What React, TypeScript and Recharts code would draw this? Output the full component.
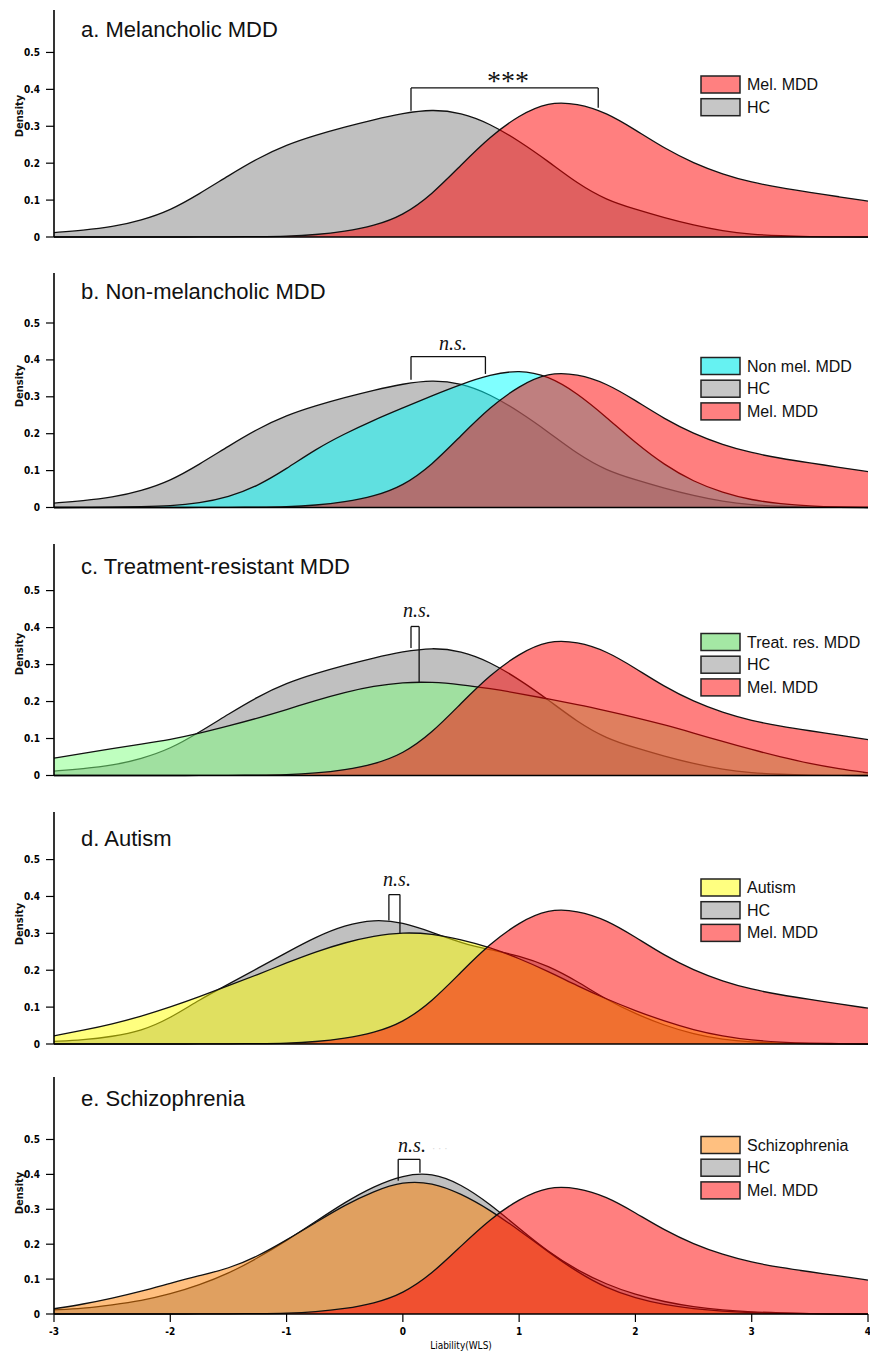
import React from "react";
import { Area, AreaChart, ReferenceLine, XAxis, YAxis } from "recharts";

// liability grid (WLS)
const xs = [-3, -2.75, -2.5, -2.25, -2, -1.75, -1.5, -1.25, -1, -0.75, -0.5, -0.25, 0, 0.25, 0.5, 0.75, 1, 1.25, 1.5, 1.75, 2, 2.25, 2.5, 2.75, 3, 3.25, 3.5, 3.75, 4];

const melMDD = [0, 0, 0, 0, 0, 0, 0.0005, 0.001, 0.002, 0.006, 0.015, 0.03, 0.058, 0.115, 0.195, 0.272, 0.33, 0.366, 0.362, 0.337, 0.29, 0.24, 0.2, 0.17, 0.148, 0.133, 0.121, 0.109, 0.097];
const hcMain = [0.012, 0.018, 0.027, 0.045, 0.072, 0.117, 0.166, 0.213, 0.25, 0.276, 0.298, 0.318, 0.335, 0.346, 0.337, 0.307, 0.26, 0.205, 0.145, 0.1, 0.075, 0.052, 0.032, 0.016, 0.007, 0.003, 0.001, 0, 0];
const nonMel = [0, 0, 0.001, 0.002, 0.004, 0.012, 0.028, 0.058, 0.105, 0.158, 0.2, 0.237, 0.27, 0.303, 0.334, 0.36, 0.373, 0.357, 0.31, 0.245, 0.175, 0.115, 0.07, 0.04, 0.02, 0.01, 0.004, 0.001, 0];
const treatRes = [0.047, 0.06, 0.073, 0.085, 0.097, 0.114, 0.134, 0.155, 0.178, 0.203, 0.225, 0.242, 0.252, 0.253, 0.246, 0.235, 0.222, 0.207, 0.192, 0.175, 0.157, 0.137, 0.115, 0.092, 0.07, 0.05, 0.032, 0.018, 0.007];
const hcAutism = [0.007, 0.011, 0.02, 0.035, 0.07, 0.12, 0.162, 0.205, 0.248, 0.29, 0.322, 0.338, 0.33, 0.303, 0.274, 0.255, 0.24, 0.212, 0.17, 0.12, 0.082, 0.05, 0.027, 0.012, 0.005, 0.002, 0.001, 0, 0];
const autism = [0.022, 0.037, 0.054, 0.075, 0.1, 0.128, 0.158, 0.188, 0.22, 0.25, 0.275, 0.293, 0.303, 0.299, 0.283, 0.262, 0.232, 0.197, 0.158, 0.122, 0.09, 0.062, 0.038, 0.021, 0.01, 0.005, 0.002, 0.001, 0];
const hcSchizo = [0.012, 0.016, 0.026, 0.038, 0.057, 0.083, 0.116, 0.16, 0.21, 0.265, 0.32, 0.366, 0.398, 0.405, 0.372, 0.315, 0.245, 0.178, 0.125, 0.085, 0.055, 0.035, 0.02, 0.011, 0.006, 0.003, 0.001, 0, 0];
const schizo = [0.015, 0.028, 0.045, 0.065, 0.088, 0.11, 0.13, 0.165, 0.212, 0.262, 0.312, 0.352, 0.38, 0.377, 0.345, 0.298, 0.24, 0.178, 0.12, 0.074, 0.045, 0.026, 0.015, 0.008, 0.004, 0.002, 0.001, 0, 0];

const xTicks = [-3, -2, -1, 0, 1, 2, 3, 4];
const yTicks = [0, 0.1, 0.2, 0.3, 0.4, 0.5];

// significance brackets: [left x, right x, top, left foot, right foot]
const bracketA = [0.07, 1.68, 0.404, 0.342, 0.35];
const bracketB = [0.07, 0.71, 0.409, 0.346, 0.362];
const bracketC = [0.07, 0.14, 0.403, 0.345, 0.25];
const bracketD = [-0.12, -0.025, 0.405, 0.335, 0.3];
const bracketE = [-0.04, 0.147, 0.443, 0.382, 0.405];

const rows = xs.map((x, i) => ({
  x,
  mel: melMDD[i],
  hc: hcMain[i],
  nonMel: nonMel[i],
  treat: treatRes[i],
  hcA: hcAutism[i],
  autism: autism[i],
  hcS: hcSchizo[i],
  schizo: schizo[i],
}));

const SANS = "'Liberation Sans', Arial, sans-serif";
const NARROW = "'Liberation Sans Narrow', 'DejaVu Sans Condensed', 'Liberation Sans', sans-serif";
const SERIF = "'Liberation Serif', 'DejaVu Serif', serif";

const GRAY = { fill: "#c0c0c0", op: 1 };
const RED = { fill: "#ff0000", op: 0.5 };

const panels = [
  {
    title: "a. Melancholic MDD", titleY: 37, top: 10, bottom: 237, yMax: 0.615, densityY: 116,
    series: [{ key: "hc", ...GRAY }, { key: "mel", ...RED }],
    legend: [["Mel. MDD", "#ff8080"], ["HC", "#c6c6c6"]], legendTop: 76,
    bracket: bracketA, sig: "***", sigX: 508, sigY: 90,
  },
  {
    title: "b. Non-melancholic MDD", titleY: 299, top: 273, bottom: 507.5, yMax: 0.6355, densityY: 386,
    series: [{ key: "hc", ...GRAY }, { key: "nonMel", fill: "#00ffff", op: 0.5 }, { key: "mel", ...RED }],
    legend: [["Non mel. MDD", "#66f2f2"], ["HC", "#c6c6c6"], ["Mel. MDD", "#ff8080"]], legendTop: 357.5,
    bracket: bracketB, sig: "n.s.", sigX: 453, sigY: 349.5,
  },
  {
    title: "c. Treatment-resistant MDD", titleY: 574, top: 544, bottom: 775.5, yMax: 0.626, densityY: 654,
    series: [{ key: "hc", ...GRAY }, { key: "treat", fill: "#80ff80", op: 0.5 }, { key: "mel", ...RED }],
    legend: [["Treat. res. MDD", "#a4e8a4"], ["HC", "#c6c6c6"], ["Mel. MDD", "#ff8080"]], legendTop: 633.5,
    bracket: bracketC, sig: "n.s.", sigX: 417, sigY: 616.5,
  },
  {
    title: "d. Autism", titleY: 845.5, top: 812, bottom: 1044, yMax: 0.629, densityY: 924,
    series: [{ key: "hcA", ...GRAY }, { key: "autism", fill: "#ffff00", op: 0.5 }, { key: "mel", ...RED }],
    legend: [["Autism", "#ffff80"], ["HC", "#c6c6c6"], ["Mel. MDD", "#ff8080"]], legendTop: 879,
    bracket: bracketD, sig: "n.s.", sigX: 397, sigY: 886,
  },
  {
    title: "e. Schizophrenia", titleY: 1105.5, top: 1077, bottom: 1314, yMax: 0.679, densityY: 1193,
    series: [{ key: "hcS", ...GRAY }, { key: "schizo", fill: "#ff8000", op: 0.5 }, { key: "mel", ...RED }],
    legend: [["Schizophrenia", "#ffc080"], ["HC", "#c6c6c6"], ["Mel. MDD", "#ff8080"]], legendTop: 1136.5,
    bracket: bracketE, sig: "n.s.", sigX: 412, sigY: 1151.5,
  },
];

const Panel = ({ p, last }: { p: any; last: boolean }) => {
  const [l, r, t, lf, rf] = p.bracket;
  const xh = last ? 37 : 12;
  return (
    <div style={{ position: "absolute", left: 0, top: p.top - 5 }}>
      <AreaChart
        width={870}
        height={p.bottom - p.top + 5 + xh}
        data={rows}
        margin={{ top: 5, right: 2, bottom: 0, left: 0 }}
      >
        <XAxis
          dataKey="x"
          type="number"
          domain={[-3, 4]}
          ticks={xTicks}
          interval={0}
          height={xh}
          tickSize={8}
          tickMargin={6}
          tick={last ? { fontSize: 10, fontWeight: "bold", fontFamily: NARROW, fill: "#000" } : false}
          axisLine={{ stroke: "#000", strokeWidth: 1.6 }}
          tickLine={{ stroke: "#000", strokeWidth: 1.2 }}
          label={last ? { value: "Liability(WLS)", position: "insideBottom", offset: 2, style: { fontSize: 10, fontFamily: NARROW, fill: "#000" } } : undefined}
        />
        <YAxis
          type="number"
          domain={[0, p.yMax]}
          ticks={yTicks}
          width={54}
          tickSize={8}
          tickMargin={6}
          tick={{ fontSize: 10, fontWeight: "bold", fontFamily: NARROW, fill: "#000" }}
          axisLine={{ stroke: "#000", strokeWidth: 1.6 }}
          tickLine={{ stroke: "#000", strokeWidth: 1.2 }}
        />
        {p.series.map((s: any) => (
          <Area
            key={s.key}
            type="basis"
            dataKey={s.key}
            fill={s.fill}
            fillOpacity={s.op}
            stroke="#111"
            strokeWidth={1.3}
            dot={false}
            activeDot={false}
            isAnimationActive={false}
          />
        ))}
        <ReferenceLine segment={[{ x: l, y: lf }, { x: l, y: t }]} stroke="#111" strokeWidth={1.3} />
        <ReferenceLine segment={[{ x: l, y: t }, { x: r, y: t }]} stroke="#111" strokeWidth={1.3} />
        <ReferenceLine segment={[{ x: r, y: t }, { x: r, y: rf }]} stroke="#111" strokeWidth={1.3} />
      </AreaChart>
    </div>
  );
};

const Overlay = () => (
  <svg width={870} height={1351} style={{ position: "absolute", left: 0, top: 0, pointerEvents: "none" }}>
    {panels.map((p, i) => (
      <g key={i}>
        <text x={81} y={p.titleY} fontFamily={SANS} fontSize={22} fill="#111">
          {p.title}
        </text>
        <text
          x={19}
          y={p.densityY}
          transform={`rotate(-90 19 ${p.densityY})`}
          textAnchor="middle"
          dominantBaseline="central"
          fontFamily={NARROW}
          fontSize={11}
          fontWeight="bold"
          fill="#111"
        >
          Density
        </text>
        {p.sig === "***" ? (
          <text x={p.sigX} y={p.sigY} textAnchor="middle" fontFamily={SERIF} fontSize={28} fill="#111">
            ***
          </text>
        ) : (
          <text x={p.sigX} y={p.sigY} textAnchor="middle" fontFamily={SERIF} fontStyle="italic" fontSize={20} fill="#111">
            n.s.
          </text>
        )}
        {p.legend.map(([name, color]: string[], j: number) => {
          const y = p.legendTop + j * 22.7;
          return (
            <g key={name}>
              <rect x={701} y={y} width={39} height={17} fill={color} stroke="#222" strokeWidth={1.5} />
              <text x={747} y={y + 14} fontFamily={SANS} fontSize={16} fill="#111">
                {name}
              </text>
            </g>
          );
        })}
      </g>
    ))}
    <text x={432} y={1151.5} fontFamily={SANS} fontSize={10} fill="#d8d8d8">
      · · ·
    </text>
  </svg>
);

export default function App() {
  return (
    <div style={{ position: "absolute", left: 0, top: 0, width: 870, height: 1351, background: "#fff" }}>
      {panels.map((p, i) => (
        <Panel key={i} p={p} last={i === panels.length - 1} />
      ))}
      <Overlay />
    </div>
  );
}
